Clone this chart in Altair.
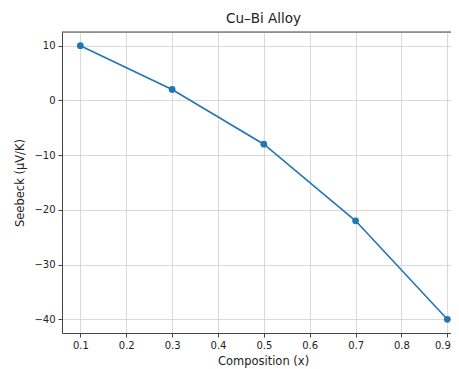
import altair as alt
import pandas as pd

composition = [0.1, 0.3, 0.5, 0.7, 0.9]
seebeck = [10, 2, -8, -22, -40]
x_ticks = [0.1, 0.2, 0.3, 0.4, 0.5, 0.6, 0.7, 0.8, 0.9]
y_ticks = [-40, -30, -20, -10, 0, 10]

df = pd.DataFrame({"x": composition, "y": seebeck})

W, H = 389, 301
FONT = "DejaVu Sans"
BLUE = "#1f77b4"

xs = alt.Scale(domain=[0.06, 0.908], nice=False, zero=False)
ys = alt.Scale(domain=[-42.5, 12.5], nice=False, zero=False)

xaxis = alt.Axis(values=x_ticks, format=".1f", title="Composition (x)",
                 grid=True, gridColor="#d0d0d0", gridWidth=0.8,
                 domainColor="#444", domainWidth=1, tickColor="#444", tickSize=4,
                 labelPadding=3, labelFont=FONT, labelFontSize=10, labelColor="#222",
                 labelAlign={"condition": {"test": "datum.value > 0.85", "value": "right"}, "value": "center"},
                 labelOffset={"condition": {"test": "datum.value > 0.85", "value": 3}, "value": 0},
                 titleFont=FONT, titleFontSize=11.5, titleFontWeight="normal", titleColor="#222",
                 titleX=201, titleY=31, titleAlign="center", titleBaseline="alphabetic")
yaxis = alt.Axis(values=y_ticks, format="d", title="Seebeck (μV/K)",
                 grid=True, gridColor="#d0d0d0", gridWidth=0.8,
                 domainColor="#444", domainWidth=1, tickColor="#444", tickSize=4,
                 labelPadding=3, labelFont=FONT, labelFontSize=10, labelColor="#222",
                 titleFont=FONT, titleFontSize=11.5, titleFontWeight="normal", titleColor="#222",
                 titlePadding=8)

base = alt.Chart(df)
line = base.mark_line(color=BLUE, strokeWidth=1.6, clip=True).encode(
    x=alt.X("x:Q", scale=xs, axis=xaxis),
    y=alt.Y("y:Q", scale=ys, axis=yaxis),
)
pts = base.mark_circle(color=BLUE, size=45, opacity=1).encode(
    x=alt.X("x:Q", scale=xs),
    y=alt.Y("y:Q", scale=ys),
)
top = alt.Chart(pd.DataFrame({"a": [0]})).mark_rule(color="#444", strokeWidth=1).encode(
    x=alt.value(0), x2=alt.value(W), y=alt.value(0)
)

chart = alt.layer(line, pts, top).properties(
    width=W, height=H,
    title=alt.Title("Cu–Bi Alloy", font=FONT, fontSize=13.5, fontWeight="normal",
                    color="#222", anchor="middle", dx=7, offset=6),
    autosize=alt.AutoSizeParams(type="none"),
    padding={"left": 54, "top": 24, "right": 0, "bottom": 36},
).configure_view(stroke=None).configure(background="white")

chart.save("out.html", embed_options={"renderer": "svg", "actions": False})
